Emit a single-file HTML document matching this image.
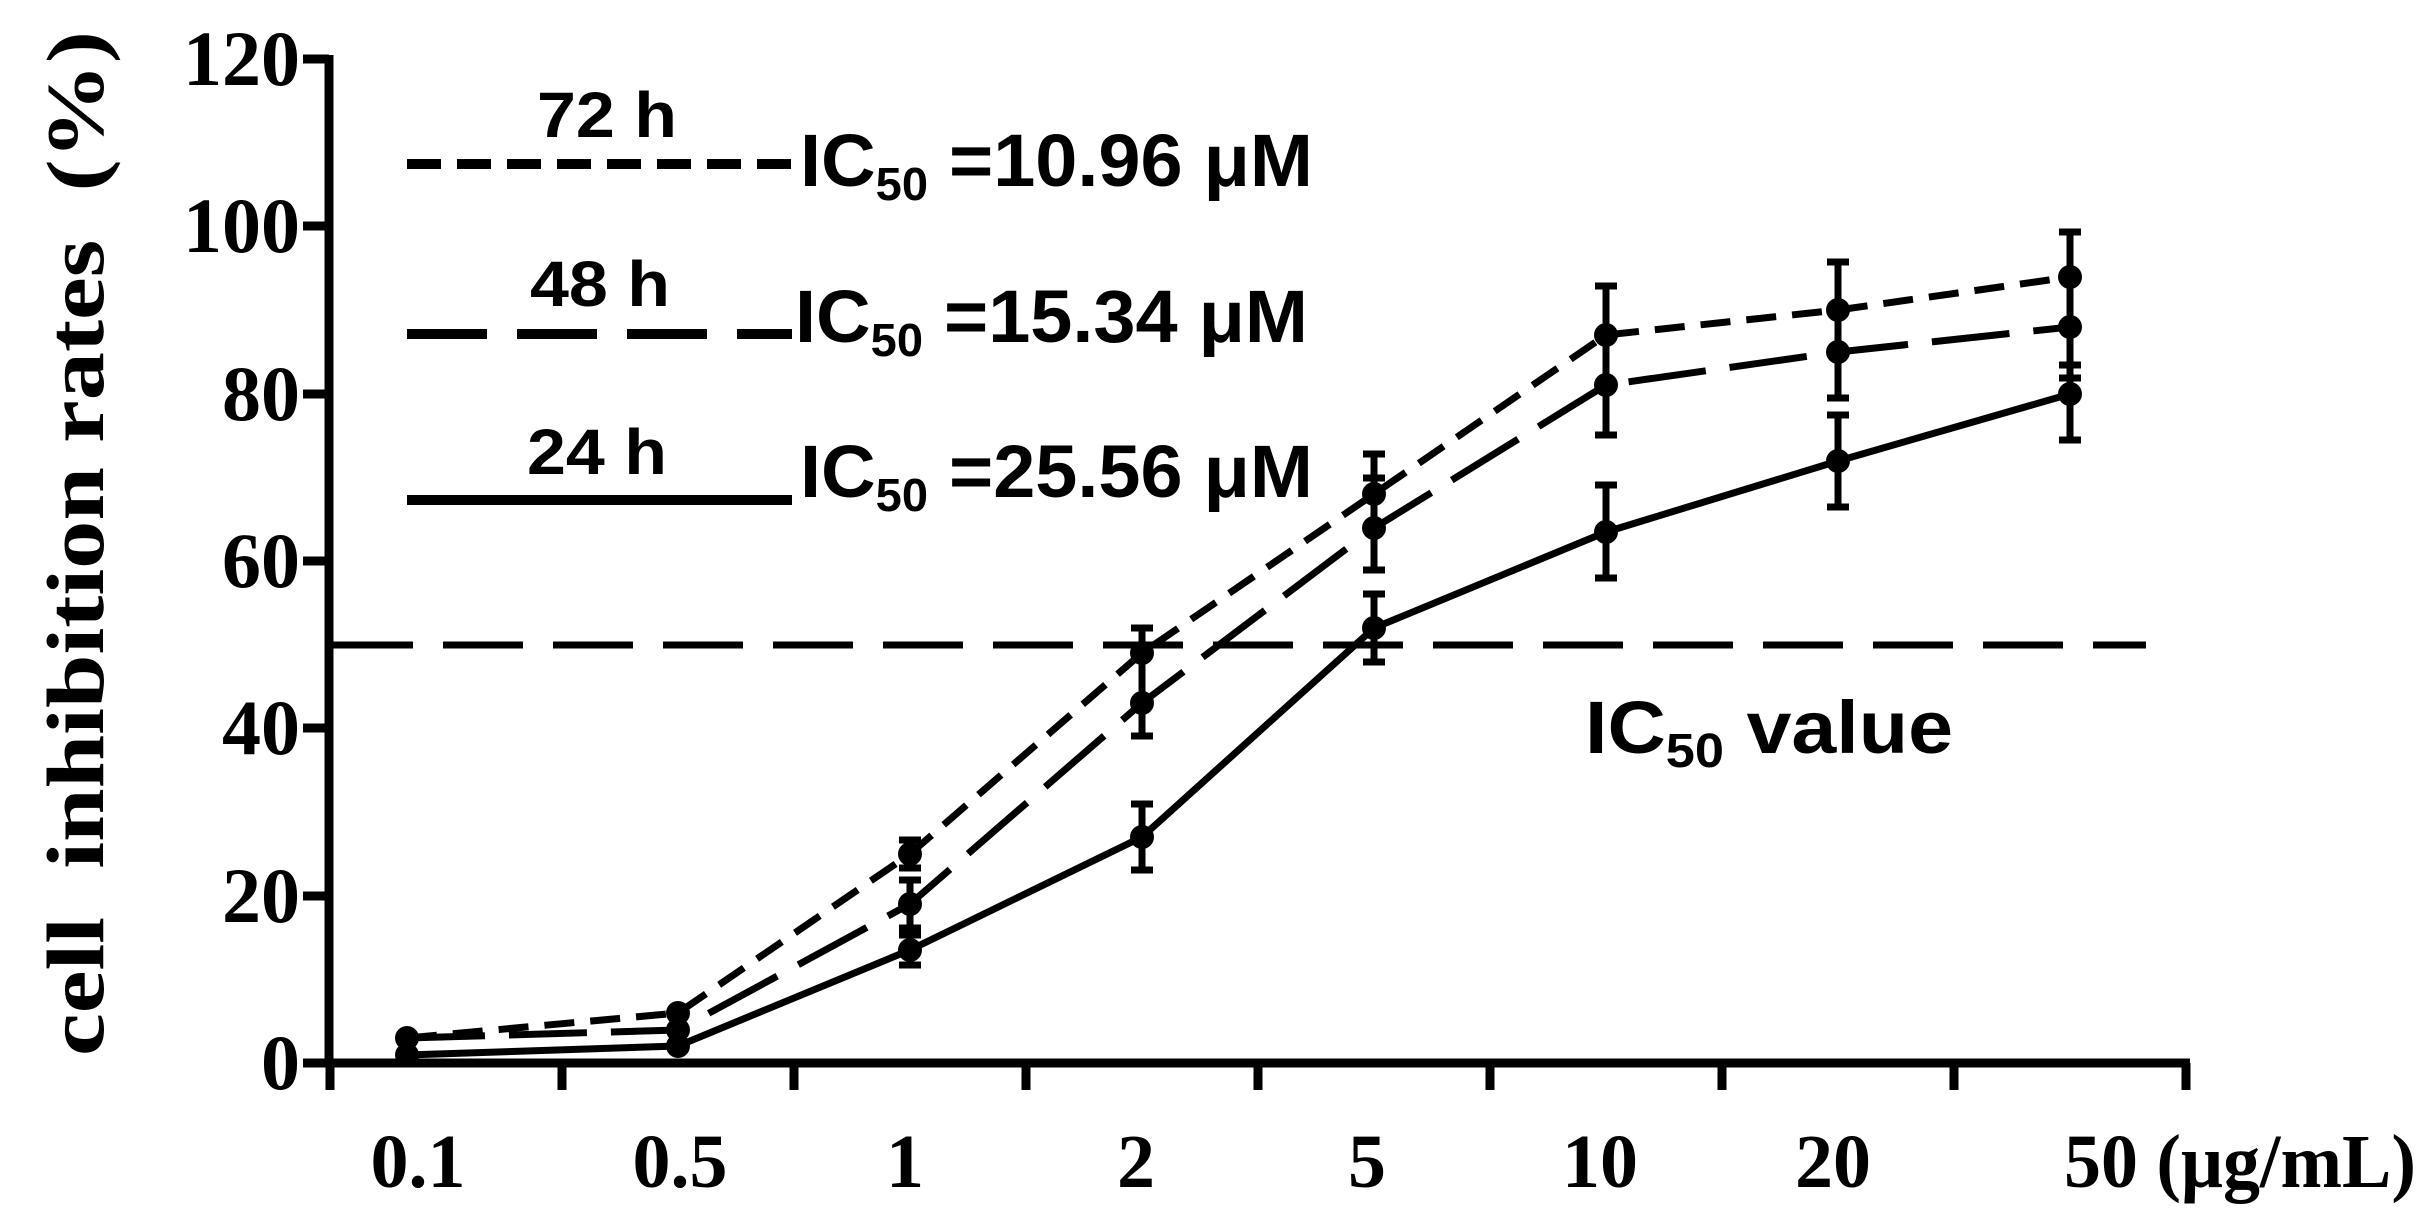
<!DOCTYPE html>
<html><head><meta charset="utf-8"><style>
html,body{margin:0;padding:0;background:#fff;}
svg{display:block;}
.t{font-family:"Liberation Serif",serif;font-weight:bold;fill:#000;}
.s{font-family:"Liberation Sans",sans-serif;font-weight:bold;fill:#000;}
</style></head><body>
<svg width="2436" height="1225" viewBox="0 0 2436 1225" xmlns="http://www.w3.org/2000/svg">
<rect width="2436" height="1225" fill="#fff"/>
<g stroke="#000" stroke-width="9" fill="none">
<line x1="329" y1="55" x2="329" y2="1067"/>
<line x1="325" y1="1063" x2="2190" y2="1063"/>
<line x1="303" y1="59" x2="329" y2="59"/>
<line x1="303" y1="226" x2="329" y2="226"/>
<line x1="303" y1="394" x2="329" y2="394"/>
<line x1="303" y1="561" x2="329" y2="561"/>
<line x1="303" y1="728" x2="329" y2="728"/>
<line x1="303" y1="896" x2="329" y2="896"/>
<line x1="303" y1="1063" x2="329" y2="1063"/>
<line x1="330" y1="1063" x2="330" y2="1090"/>
<line x1="562" y1="1063" x2="562" y2="1090"/>
<line x1="794" y1="1063" x2="794" y2="1090"/>
<line x1="1026" y1="1063" x2="1026" y2="1090"/>
<line x1="1258" y1="1063" x2="1258" y2="1090"/>
<line x1="1490" y1="1063" x2="1490" y2="1090"/>
<line x1="1722" y1="1063" x2="1722" y2="1090"/>
<line x1="1954" y1="1063" x2="1954" y2="1090"/>
<line x1="2186" y1="1063" x2="2186" y2="1090"/>
</g>
<g class="t" font-size="78" text-anchor="end">
<text x="300" y="85">120</text>
<text x="300" y="252">100</text>
<text x="300" y="420">80</text>
<text x="300" y="587">60</text>
<text x="300" y="754">40</text>
<text x="300" y="922">20</text>
<text x="300" y="1089">0</text>
</g>
<g class="t" font-size="76" text-anchor="middle">
<text x="418" y="1187">0.1</text>
<text x="680" y="1187">0.5</text>
<text x="905" y="1187">1</text>
<text x="1136" y="1187">2</text>
<text x="1367" y="1187">5</text>
<text x="1600" y="1187">10</text>
<text x="1833" y="1187">20</text>
</g>
<text class="t" font-size="76" x="2064" y="1187" textLength="352" lengthAdjust="spacingAndGlyphs">50 (μg/mL)</text>
<text class="t" font-size="82" transform="translate(103,1056) rotate(-90)" textLength="1025" lengthAdjust="spacingAndGlyphs" xml:space="preserve">cell  inhibition rates  (%)</text>
<line x1="333" y1="645" x2="2146" y2="645" stroke="#000" stroke-width="7" stroke-dasharray="80,30"/>
<text class="s" font-size="74" x="1585" y="753" textLength="368" lengthAdjust="spacingAndGlyphs">IC<tspan font-size="48" dy="14">50</tspan><tspan dy="-14"> value</tspan></text>
<line x1="407" y1="164" x2="792" y2="164" stroke="#000" stroke-width="10" stroke-dasharray="34,16"/>
<line x1="407" y1="334" x2="792" y2="334" stroke="#000" stroke-width="10" stroke-dasharray="80,30"/>
<line x1="407" y1="500" x2="792" y2="500" stroke="#000" stroke-width="10"/>
<g class="s" font-size="64" text-anchor="middle">
<text x="607" y="137" textLength="140" lengthAdjust="spacingAndGlyphs">72 h</text>
<text x="600" y="306" textLength="140" lengthAdjust="spacingAndGlyphs">48 h</text>
<text x="597" y="474" textLength="140" lengthAdjust="spacingAndGlyphs">24 h</text>
</g>
<g class="s" font-size="74">
<text x="800" y="186" textLength="513" lengthAdjust="spacingAndGlyphs">IC<tspan font-size="46" dy="14">50</tspan><tspan dy="-14"> =10.96 μM</tspan></text>
<text x="795" y="342" textLength="513" lengthAdjust="spacingAndGlyphs">IC<tspan font-size="46" dy="14">50</tspan><tspan dy="-14"> =15.34 μM</tspan></text>
<text x="800" y="497" textLength="513" lengthAdjust="spacingAndGlyphs">IC<tspan font-size="46" dy="14">50</tspan><tspan dy="-14"> =25.56 μM</tspan></text>
</g>
<g stroke="#000" stroke-width="7" fill="none" stroke-linejoin="round">
<polyline stroke-dasharray="30,16" points="407,1038 678,1013 910,854 1142,653 1374,494 1606,335 1838,310 2070,277"/>
<polyline stroke-dasharray="78,24" points="407,1038 678,1030 910,904 1142,703 1374,528 1606,385 1838,352 2070,327"/>
<polyline points="407,1055 678,1046 910,950 1142,837 1374,628 1606,532 1838,461 2070,394"/>
</g>
<g stroke="#000" stroke-width="7" fill="none">
<path d="M910,840 V868 M899,840 H921 M899,868 H921"/>
<path d="M910,880 V928 M899,880 H921 M899,928 H921"/>
<path d="M910,935 V965 M899,935 H921 M899,965 H921"/>
<path d="M1142,628 V678 M1131,628 H1153"/>
<path d="M1142,670 V736 M1131,736 H1153"/>
<path d="M1142,804 V870 M1131,804 H1153 M1131,870 H1153"/>
<path d="M1374,454 V570 M1363,454 H1385 M1363,570 H1385"/>
<path d="M1374,594 V662 M1363,594 H1385 M1363,662 H1385"/>
<path d="M1606,286 V435 M1595,286 H1617 M1595,435 H1617"/>
<path d="M1606,485 V578 M1595,485 H1617 M1595,578 H1617"/>
<path d="M1838,262 V398 M1827,262 H1849 M1827,398 H1849"/>
<path d="M1838,415 V507 M1827,415 H1849 M1827,507 H1849"/>
<path d="M2070,232 V440 M2059,232 H2081 M2059,440 H2081"/>
<path d="M2059,365 H2081 M2059,378 H2081"/>
<path d="M1374,478 V520 M1363,478 H1385"/>
</g>
<g fill="#000">
<circle cx="407" cy="1038" r="12"/><circle cx="678" cy="1013" r="12"/><circle cx="910" cy="854" r="12"/><circle cx="1142" cy="653" r="12"/><circle cx="1374" cy="494" r="12"/><circle cx="1606" cy="335" r="12"/><circle cx="1838" cy="310" r="12"/><circle cx="2070" cy="277" r="12"/>
<circle cx="678" cy="1030" r="12"/><circle cx="910" cy="904" r="12"/><circle cx="1142" cy="703" r="12"/><circle cx="1374" cy="528" r="12"/><circle cx="1606" cy="385" r="12"/><circle cx="1838" cy="352" r="12"/><circle cx="2070" cy="327" r="12"/>
<circle cx="407" cy="1055" r="12"/><circle cx="678" cy="1046" r="12"/><circle cx="910" cy="950" r="12"/><circle cx="1142" cy="837" r="12"/><circle cx="1374" cy="628" r="12"/><circle cx="1606" cy="532" r="12"/><circle cx="1838" cy="461" r="12"/><circle cx="2070" cy="394" r="12"/>
</g>
</svg>
</body></html>
